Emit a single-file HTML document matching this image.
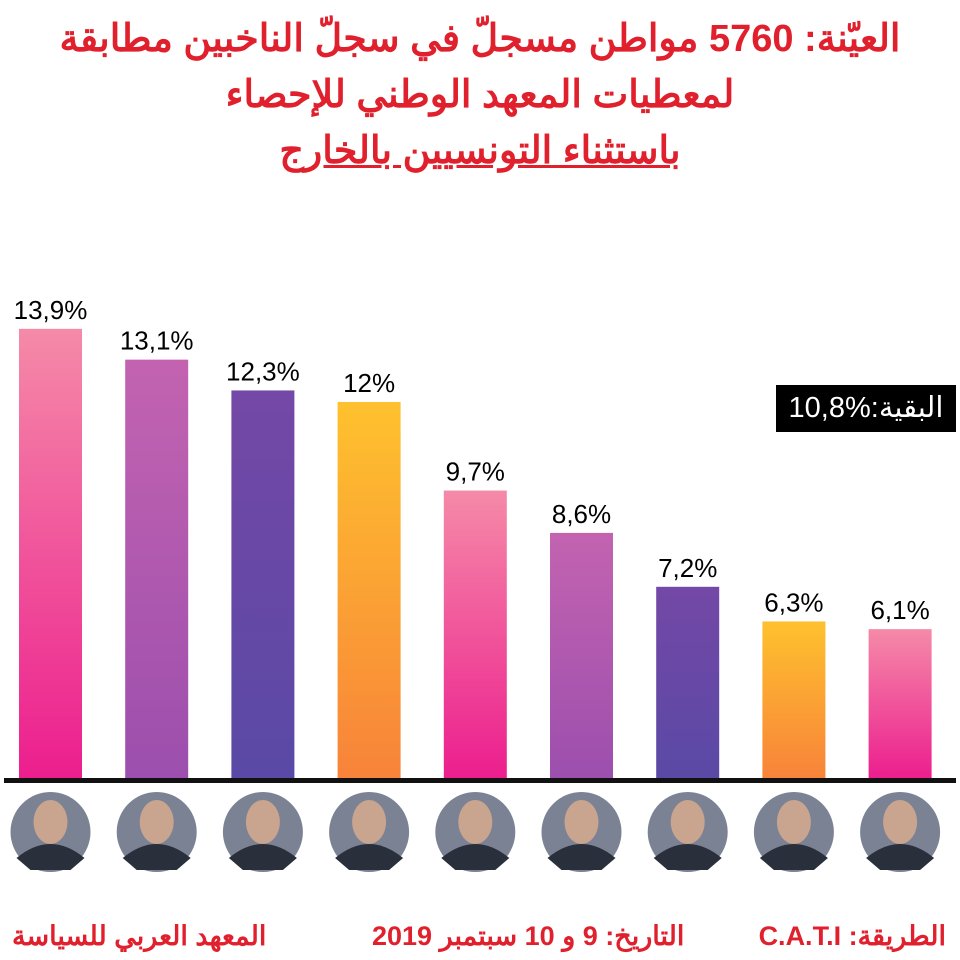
<!DOCTYPE html>
<html><head><meta charset="utf-8"><style>
body{margin:0;width:960px;height:960px;background:#fff;overflow:hidden;font-family:"Liberation Sans","Noto Sans CJK SC",sans-serif}
.t{position:absolute;left:0;width:960px;text-align:center;color:#e0202c;font-weight:bold;font-size:38px;direction:rtl}
.f{position:absolute;color:#e0202c;font-weight:bold;font-size:27px;top:921px;direction:rtl}
</style></head><body>
<div class="t" style="top:16px">العيّنة: 5760 مواطن مسجلّ في سجلّ الناخبين مطابقة</div>
<div class="t" style="top:72px">لمعطيات المعهد الوطني للإحصاء</div>
<div class="t" style="top:128px"><span style="text-decoration:underline">باستثناء التونسيين بالخارج</span></div>
<svg id="c" width="960" height="960" style="position:absolute;left:0;top:0">
<defs>
<linearGradient id="g0" x1="0" y1="0" x2="0" y2="1"><stop offset="0" stop-color="#f58aa8"/><stop offset="1" stop-color="#ec1e8e"/></linearGradient>
<linearGradient id="g1" x1="0" y1="0" x2="0" y2="1"><stop offset="0" stop-color="#c363b0"/><stop offset="1" stop-color="#9c4fae"/></linearGradient>
<linearGradient id="g2" x1="0" y1="0" x2="0" y2="1"><stop offset="0" stop-color="#7448a6"/><stop offset="1" stop-color="#5a49a6"/></linearGradient>
<linearGradient id="g3" x1="0" y1="0" x2="0" y2="1"><stop offset="0" stop-color="#fec12e"/><stop offset="1" stop-color="#f8833a"/></linearGradient>
</defs>
</svg>
<div style="position:absolute;left:776px;top:385px;width:180px;height:47px;background:#000;color:#fff;font-size:29px;line-height:47px;text-align:center">10,8%:البقية</div>
<div class="f" style="right:14px">الطريقة: C.A.T.I</div>
<div class="f" style="left:372px">التاريخ: 9 و 10 سبتمبر 2019</div>
<div class="f" style="left:12px">المعهد العربي للسياسة</div>
<script>
const values=[13.9,13.1,12.3,12,9.7,8.6,7.2,6.3,6.1];
const labels=["13,9%","13,1%","12,3%","12%","9,7%","8,6%","7,2%","6,3%","6,1%"];
const grads=["g0","g1","g2","g3","g0","g1","g2","g3","g0"];
const svg=document.getElementById('c');const NS="http://www.w3.org/2000/svg";
const base=779;
function y(v){return base-(v*38.5-85);}
function x(i){return 19+i*106.2;}
const bw=63;
values.forEach((v,i)=>{
 const r=document.createElementNS(NS,'rect');
 
 
 r.setAttribute('x',x(i));r.setAttribute('y',y(v));r.setAttribute('width',bw);r.setAttribute('height',base-y(v));
 r.setAttribute('fill','url(#'+grads[i]+')');svg.appendChild(r);
 const t=document.createElementNS(NS,'text');
 
 
 t.setAttribute('x',x(i)+bw/2);t.setAttribute('y',y(v)-10);t.setAttribute('text-anchor','middle');
 t.setAttribute('font-size','26');t.setAttribute('fill','#000');t.textContent=labels[i];svg.appendChild(t);
 const c=document.createElementNS(NS,'ellipse');
 
 
 c.setAttribute('cx',x(i)+bw/2);c.setAttribute('cy',832);c.setAttribute('rx',40);c.setAttribute('ry',40);
 c.setAttribute('fill','#7a8294');svg.appendChild(c);
 const b=document.createElementNS(NS,'path');
 
 
 const cx=x(i)+bw/2;
 b.setAttribute('d',`M${cx-34},858 Q${cx},830 ${cx+34},858 L${cx+20},870 L${cx-20},870 Z`);
 b.setAttribute('fill','#2a2f3c');svg.appendChild(b);
 const f=document.createElementNS(NS,'ellipse');
 
 
 f.setAttribute('cx',cx);f.setAttribute('cy',822);f.setAttribute('rx',17);f.setAttribute('ry',22);
 f.setAttribute('fill','#c9a48e');svg.appendChild(f);
});
const l=document.createElementNS(NS,'rect');


l.setAttribute('x',4);l.setAttribute('y',778);l.setAttribute('width',952);l.setAttribute('height',5);l.setAttribute('fill','#111');
svg.appendChild(l);
</script>
</body></html>
